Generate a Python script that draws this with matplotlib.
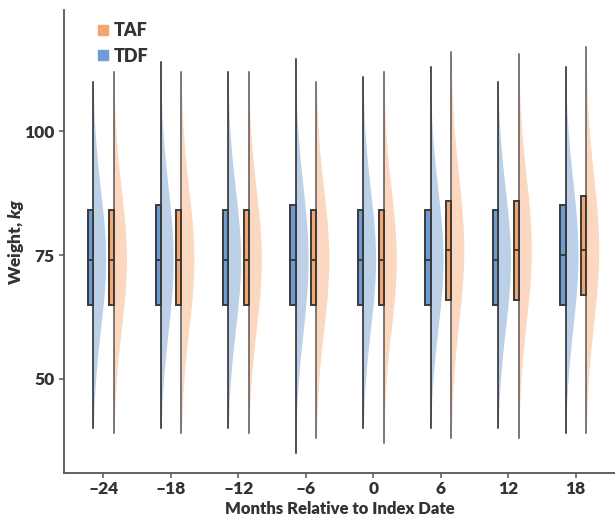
import numpy as np
import matplotlib.pyplot as plt
from matplotlib.patches import Rectangle, Polygon
from matplotlib.lines import Line2D

plt.rcParams['font.family'] = ['Lato', 'DejaVu Sans']
plt.rcParams['mathtext.fontset'] = 'custom'
plt.rcParams['mathtext.it'] = 'Lato:italic:heavy'

# %% data
months = [-24, -18, -12, -6, 0, 6, 12, 18]

# TDF: min, q1, median, q3, max
tdf_min = [40, 40, 40, 35, 40, 40, 40, 39]
tdf_q1 = [65, 65, 65, 65, 65, 65, 65, 65]
tdf_med = [74, 74, 74, 74, 74, 74, 74, 75]
tdf_q3 = [84, 85, 84, 85, 84, 84, 84, 85]
tdf_max = [110, 114, 112, 114.5, 111, 113, 110, 113]

# TAF
taf_min = [39, 39, 39, 38, 37, 38, 38, 39]
taf_q1 = [65, 65, 65, 65, 65, 66, 66, 67]
taf_med = [74, 74, 74, 74, 74, 76, 76, 76]
taf_q3 = [84, 84, 84, 84, 84, 86, 86, 87]
taf_max = [112, 112, 112, 110, 112, 116, 115.5, 117]

tdf_box = '#6f9bd1'
tdf_vio = '#bcd0e8'
taf_box = '#f5a66f'
taf_vio = '#fdd8c1'

# %% plot
fig = plt.figure(figsize=(6.15, 5.18), dpi=100)
ax = fig.add_axes([0.104, 0.087, 0.896, 0.894])


def half_violin(x, lo, q1, med, q3, hi, color, boxcolor, linecolor):
    # density shape from the summary stats (normal-ish, cut at min / max)
    sd = (q3 - q1) / 1.35
    yy = np.linspace(lo, hi, 200)
    dens = np.exp(-0.5 * ((yy - med) / sd) ** 2)
    w = 1.15 * dens
    pts = np.column_stack([np.r_[x + w, x, x], np.r_[yy, hi, lo]])
    ax.add_patch(Polygon(pts, closed=True, facecolor=color, edgecolor='none', zorder=1))
    ax.plot([x, x], [lo, hi], color=linecolor, lw=1.1, zorder=2)
    bw = 0.46
    ax.add_patch(Rectangle((x - bw, q1), bw, q3 - q1, facecolor=boxcolor,
                           edgecolor='#3a3a3a', lw=1.4, zorder=3))
    ax.plot([x - bw, x], [med, med], color='#3a3a3a', lw=1.4, zorder=4)


for i, m in enumerate(months):
    half_violin(m - 0.9, tdf_min[i], tdf_q1[i], tdf_med[i], tdf_q3[i], tdf_max[i],
                tdf_vio, tdf_box, '#222222')
    half_violin(m + 0.95, taf_min[i], taf_q1[i], taf_med[i], taf_q3[i], taf_max[i],
                taf_vio, taf_box, '#5a5555')

ax.set_xlim(-27.5, 21.5)
ax.set_ylim(31, 124.5)
ax.set_xticks(months)
ax.set_xticklabels(['\u2013' + str(-m) if m < 0 else str(m) for m in months])
ax.set_yticks([50, 75, 100])
for s in ['top', 'right']:
    ax.spines[s].set_visible(False)
for s in ['left', 'bottom']:
    ax.spines[s].set_color('#555555')
    ax.spines[s].set_linewidth(1.3)
ax.tick_params(labelsize=12.5, length=3.5, color='#555555', width=1.1)
ax.tick_params(axis='x', pad=2.5)
for lab in ax.get_xticklabels() + ax.get_yticklabels():
    lab.set_fontweight('heavy')
    lab.set_color('#333333')

ax.set_xlabel('Months Relative to Index Date', fontsize=12, fontweight='heavy', color='#333333')
ax.set_ylabel('Weight, $\\it{kg}$', fontsize=12.5, fontweight='heavy', color='#333333')
ax.xaxis.label.set_va('baseline')
ax.xaxis.set_label_coords(0.5, -0.0885)
ax.yaxis.set_label_coords(-0.068, 0.5)

handles = [Line2D([], [], marker='s', ls='none', color=taf_box, markersize=7),
           Line2D([], [], marker='s', ls='none', color=tdf_box, markersize=7)]
leg = ax.legend(handles, ['TAF', 'TDF'], loc='upper left', frameon=False,
                bbox_to_anchor=(0.022, 1.008), handletextpad=0.0, handlelength=1.2,
                labelspacing=0.45, prop={'size': 13, 'weight': 'heavy'})
for t in leg.get_texts():
    t.set_color('#333333')

fig.savefig('out.png', dpi=100)
